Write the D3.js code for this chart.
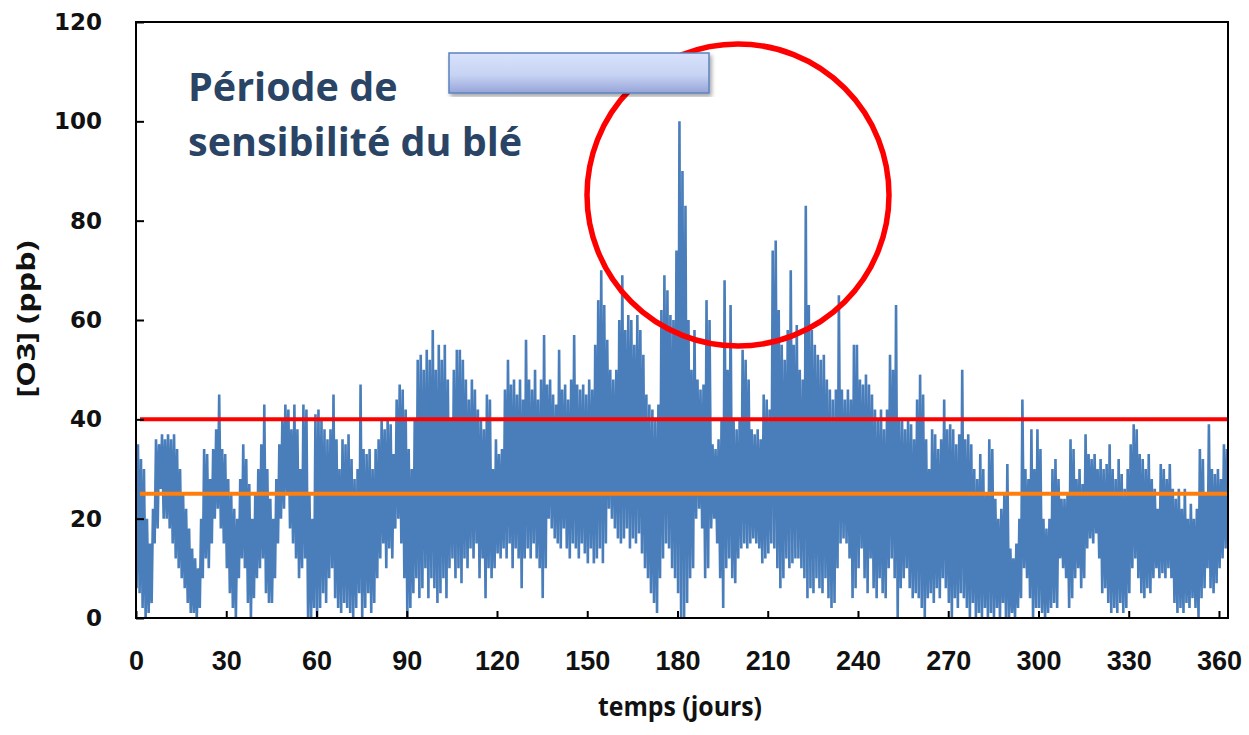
<!DOCTYPE html>
<head>
  <meta charset="utf-8" />
  <script src="https://d3js.org/d3.v7.min.js"></script>
  <style>
    body {
      margin: 0;
      background: #fff;
    }
  </style>
</head>

<body>
  <script>
    // daily max / min of [O3] (ppb), day 0 .. 364
    var dayMax = [
      35, 32, 30, 20, 15, 22, 36, 35, 37, 36,
      37, 36, 37, 34, 30, 25, 22, 18, 14, 12,
      10, 20, 34, 33, 28, 34, 38, 45, 34, 33,
      28, 25, 22, 20, 28, 35, 32, 27, 20, 25,
      30, 35, 43, 30, 24, 20, 28, 35, 40, 43,
      42, 38, 43, 38, 30, 43, 42, 25, 20, 41,
      42, 40, 38, 36, 38, 45, 36, 30, 36, 35,
      37, 32, 28, 30, 47, 34, 33, 34, 30, 34,
      36, 40, 38, 40, 39, 33, 44, 47, 46, 42,
      34, 30, 40, 52, 53, 50, 54, 52, 58, 50,
      55, 52, 55, 48, 40, 50, 54, 54, 52, 48,
      44, 48, 46, 42, 40, 38, 45, 44, 30, 36,
      33, 34, 46, 52, 47, 48, 45, 48, 44, 56,
      48, 46, 50, 44, 48, 57, 47, 48, 45, 43,
      54, 46, 47, 44, 48, 57, 47, 46, 47, 45,
      48, 46, 55, 64, 70, 63, 56, 50, 48, 50,
      60, 69, 58, 61, 60, 55, 61, 58, 53, 45,
      43, 42, 40, 43, 62, 69, 66, 61, 60, 74,
      100, 90, 83, 60, 50, 58, 48, 46, 47, 64,
      60, 35, 34, 36, 40, 68, 50, 63, 40, 38,
      40, 54, 52, 48, 38, 37, 38, 36, 45, 44,
      42, 74, 76, 62, 55, 52, 58, 70, 55, 59,
      50, 48, 83, 63, 58, 55, 53, 52, 53, 48,
      46, 44, 46, 65, 46, 44, 46, 44, 55, 55,
      48, 47, 49, 47, 45, 42, 40, 42, 38, 42,
      53, 50, 63, 40, 40, 38, 40, 39, 36, 44,
      49, 45, 36, 30, 38, 37, 34, 36, 44, 38,
      39, 38, 35, 37, 50, 36, 37, 35, 30, 28,
      33, 30, 25, 36, 34, 24, 20, 22, 25, 31,
      14, 12, 15, 20, 44, 30, 28, 38, 30, 38,
      34, 20, 18, 20, 30, 32, 28, 24, 24, 25,
      36, 34, 28, 30, 27, 37, 33, 32, 33, 30,
      32, 30, 31, 35, 30, 28, 32, 29, 26, 30,
      35, 39, 38, 33, 32, 30, 33, 28, 26, 22,
      31, 30, 28, 31, 26, 24, 26, 22, 26, 20,
      23, 20, 22, 34, 32, 25, 39, 30, 29, 30,
      28, 35, 34, 32, 30
    ];
    var dayMin = [
      6, 5, 2, 0, 1, 3, 15, 18, 26, 20,
      20, 18, 15, 12, 10, 8, 6, 3, 1, 1,
      0, 2, 8, 12, 10, 15, 20, 22, 18, 15,
      10, 5, 2, 0, 8, 12, 10, 3, 0, 4,
      8, 10, 12, 5, 3, 3, 8, 15, 20, 22,
      25, 18, 15, 12, 8, 10, 12, 0, 0, 2,
      0, 2, 5, 3, 8, 10, 4, 2, 1, 3,
      2, 1, 0, 2, 5, 0, 2, 5, 1, 3,
      8, 12, 15, 10, 14, 12, 18, 20, 15, 8,
      0, 2, 5, 8, 4, 6, 10, 4, 8, 6,
      3, 5, 8, 4, 10, 12, 8, 10, 7, 12,
      10, 14, 12, 15, 8, 12, 4, 10, 8, 10,
      13, 12, 14, 12, 15, 10, 14, 12, 6, 12,
      14, 12, 15, 12, 10, 4, 10, 20, 18, 16,
      15, 14, 18, 14, 12, 15, 14, 12, 15, 13,
      11, 14, 11, 12, 14, 11, 15, 22, 20, 18,
      16, 15, 16, 18, 14, 16, 15, 17, 13, 10,
      8, 5, 3, 1, 8, 12, 15, 14, 10, 8,
      5, 0, 0, 3, 8, 10, 20, 22, 18, 8,
      10, 18, 20, 15, 8, 2, 10, 12, 8, 7,
      12, 14, 15, 14, 15, 16, 15, 14, 11, 12,
      13, 15, 14, 10, 6, 8, 12, 10, 11, 12,
      12, 10, 8, 4, 6, 5, 8, 6, 5, 8,
      4, 2, 3, 10, 15, 16, 15, 12, 4, 6,
      10, 14, 8, 5, 12, 6, 4, 8, 5, 4,
      10, 12, 8, 0, 6, 8, 10, 6, 4, 5,
      4, 2, 0, 4, 5, 3, 6, 4, 8, 6,
      3, 0, 4, 2, 5, 4, 2, 0, 3, 0,
      1, 0, 2, 0, 1, 0, 2, 0, 3, 0,
      0, 1, 0, 2, 4, 10, 8, 4, 0, 2,
      2, 1, 0, 1, 2, 3, 2, 12, 10, 8,
      2, 4, 8, 10, 6, 8, 14, 16, 15, 17,
      12, 5, 6, 3, 1, 2, 1, 3, 1, 2,
      5, 10, 12, 8, 5, 4, 6, 5, 8, 10,
      8, 9, 8, 10, 8, 3, 1, 2, 1, 3,
      2, 4, 2, 0, 4, 6, 10, 6, 5, 7,
      10, 12, 14, 18, 20
    ];
    var xTicks = [0, 30, 60, 90, 120, 150, 180, 210, 240, 270, 300, 330, 360];
    var yTicks = [0, 20, 40, 60, 80, 100, 120];
    var seuils = [40, 25]; // lignes de seuil
    var seuilColors = ["#ff0000", "#ff7f0e"];
    var titre = ["Période de", "sensibilité du blé"];

    var width = 1249,
      height = 735;
    // (pas de "top" : window.top est en lecture seule)
    var pLeft = 136,
      pRight = 1228,
      pTop = 22,
      pBottom = 618;

    var svg = d3
      .select("body")
      .append("svg")
      .attr("width", width)
      .attr("height", height);

    var x = d3.scaleLinear().domain([0, 363]).range([pLeft, pRight]);
    var y = d3.scaleLinear().domain([0, 120]).range([pBottom, pTop]);

    // serie : un min puis un max par jour
    var points = [];
    for (var i = 0; i < dayMax.length; i++) {
      points.push([i + 0.2, dayMin[i]]);
      points.push([i + 0.65, dayMax[i]]);
    }

    var defs = svg.append("defs");
    defs
      .append("clipPath")
      .attr("id", "clip")
      .append("rect")
      .attr("x", pLeft)
      .attr("y", pTop)
      .attr("width", pRight - pLeft)
      .attr("height", pBottom - pTop);

    var grad = defs
      .append("linearGradient")
      .attr("id", "barGrad")
      .attr("x1", 0)
      .attr("y1", 0)
      .attr("x2", 0)
      .attr("y2", 1);
    grad.append("stop").attr("offset", "0%").attr("stop-color", "#d8e2fb");
    grad.append("stop").attr("offset", "55%").attr("stop-color", "#c7d3f3");
    grad.append("stop").attr("offset", "100%").attr("stop-color", "#97a4d8");

    var shadow = defs.append("filter").attr("id", "shadow");
    shadow
      .append("feDropShadow")
      .attr("dx", 2)
      .attr("dy", 3)
      .attr("stdDeviation", 2)
      .attr("flood-color", "#000")
      .attr("flood-opacity", 0.35);

    var line = d3
      .line()
      .x((d) => x(d[0]))
      .y((d) => y(d[1]));

    svg
      .append("path")
      .datum(points)
      .attr("clip-path", "url(#clip)")
      .attr("fill", "none")
      .attr("stroke", "#4a7ebb")
      .attr("stroke-width", 2.6)
      .attr("d", line);

    // seuils
    svg
      .selectAll(".seuil")
      .data(seuils)
      .enter()
      .append("line")
      .attr("class", "seuil")
      .attr("x1", pLeft + 4)
      .attr("x2", pRight)
      .attr("y1", (d) => y(d))
      .attr("y2", (d) => y(d))
      .attr("stroke", (d, i) => seuilColors[i])
      .attr("stroke-width", 4);

    // axes
    var xAxis = d3
      .axisBottom(x)
      .tickValues(xTicks)
      .tickSizeInner(-7)
      .tickSizeOuter(0)
      .tickPadding(33);
    var gx = svg
      .append("g")
      .attr("transform", "translate(0," + pBottom + ")")
      .call(xAxis);
    gx.select(".domain").remove();
    gx.selectAll("line").attr("stroke", "#000").attr("stroke-width", 2);
    gx.selectAll("text")
      .attr("fill", "#111")
      .style("font-family", "'Liberation Sans Narrow', 'Arial Narrow', sans-serif")
      .style("font-weight", "bold")
      .style("font-size", "27px");

    var yAxis = d3
      .axisLeft(y)
      .tickValues(yTicks)
      .tickSizeInner(-8)
      .tickSizeOuter(0)
      .tickPadding(34);
    var gy = svg
      .append("g")
      .attr("transform", "translate(" + pLeft + ",0)")
      .call(yAxis);
    gy.select(".domain").remove();
    gy.selectAll("line").attr("stroke", "#000").attr("stroke-width", 2);
    gy.selectAll("text")
      .attr("fill", "#111")
      .style("font-family", "'DejaVu Sans', sans-serif")
      .style("font-weight", "bold")
      .style("font-size", "23px");

    // cadre
    svg
      .append("rect")
      .attr("x", pLeft)
      .attr("y", pTop)
      .attr("width", pRight - pLeft)
      .attr("height", pBottom - pTop)
      .attr("fill", "none")
      .attr("stroke", "#000")
      .attr("stroke-width", 2);

    svg
      .append("text")
      .attr("x", 680)
      .attr("y", 716)
      .attr("text-anchor", "middle")
      .attr("textLength", 164)
      .attr("lengthAdjust", "spacingAndGlyphs")
      .style("font-family", "'Open Sans', sans-serif")
      .style("font-weight", "bold")
      .style("font-size", "26px")
      .attr("fill", "#111")
      .text("temps (jours)");

    svg
      .append("text")
      .attr("transform", "translate(35,319) rotate(-90)")
      .attr("text-anchor", "middle")
      .attr("textLength", 157)
      .attr("lengthAdjust", "spacingAndGlyphs")
      .style("font-family", "'Open Sans', sans-serif")
      .style("font-weight", "bold")
      .style("font-size", "25px")
      .attr("fill", "#111")
      .text("[O3] (ppb)");

    // cercle rouge autour du pic
    svg
      .append("circle")
      .attr("cx", 738)
      .attr("cy", 195)
      .attr("r", 151)
      .attr("fill", "none")
      .attr("stroke", "#f00")
      .attr("stroke-width", 5.5);

    // barre bleue
    svg
      .append("rect")
      .attr("x", 449)
      .attr("y", 53)
      .attr("width", 260)
      .attr("height", 40)
      .attr("fill", "url(#barGrad)")
      .attr("stroke", "#5b83c0")
      .attr("stroke-width", 1.5)
      .attr("filter", "url(#shadow)");

    svg
      .selectAll(".titre")
      .data(titre)
      .enter()
      .append("text")
      .attr("class", "titre")
      .attr("x", 188)
      .attr("y", (d, i) => 101 + i * 55)
      .style("font-family", "'Open Sans', sans-serif")
      .style("font-weight", "bold")
      .style("font-size", "39.5px")
      .attr("fill", "#2a4466")
      .text((d) => d);
  </script>
</body>
